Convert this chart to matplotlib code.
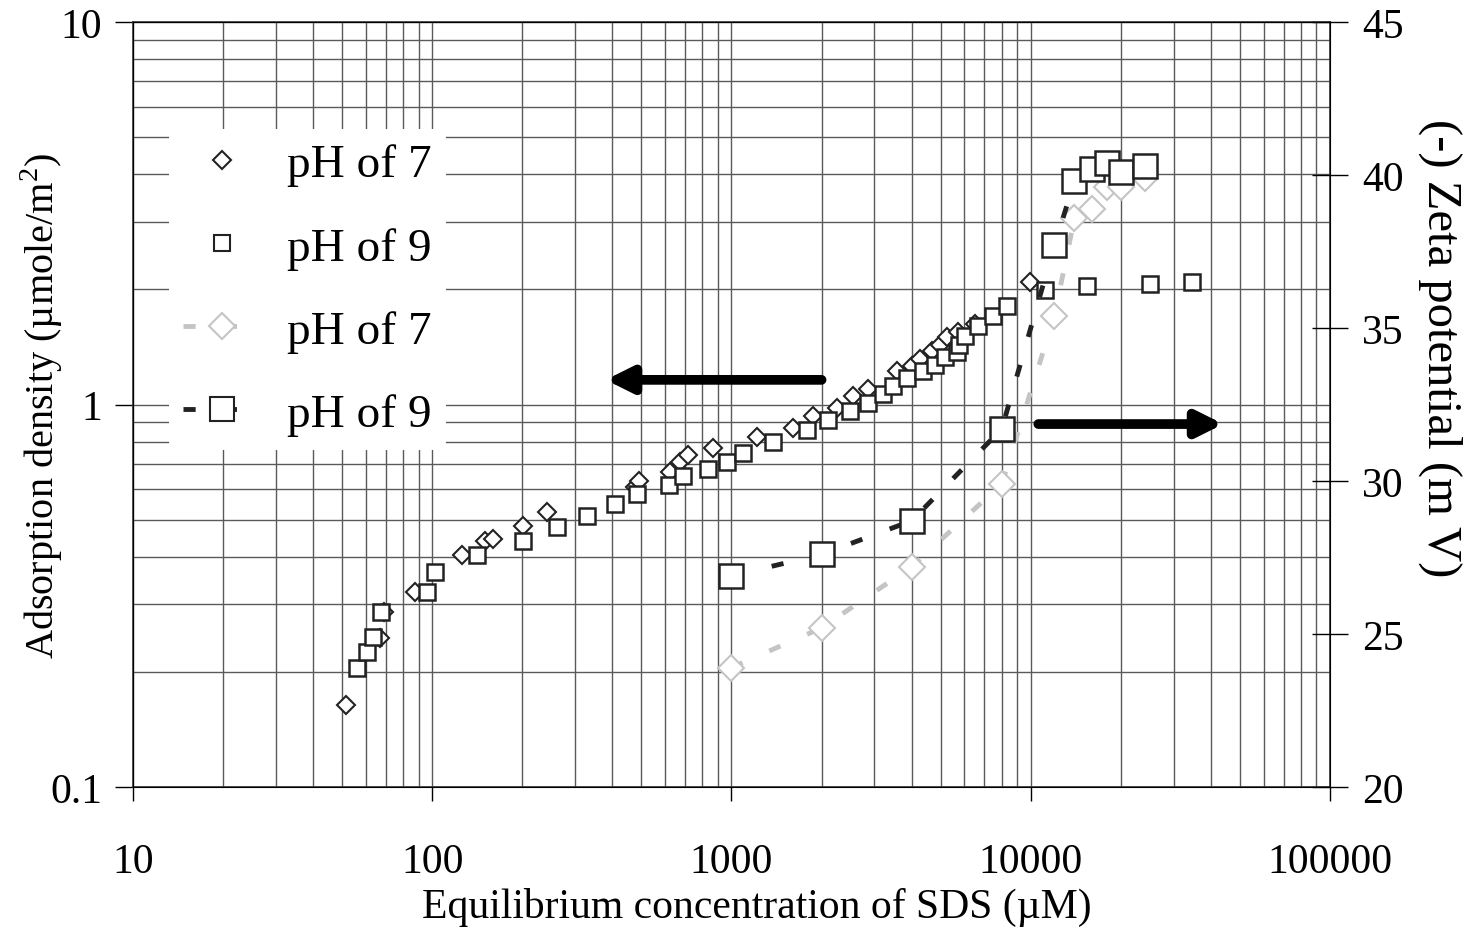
import numpy as np
import matplotlib
matplotlib.use('Agg')
import matplotlib.pyplot as plt
from matplotlib.lines import Line2D
from matplotlib.ticker import FixedLocator, FixedFormatter, LogLocator, NullFormatter

plt.rcParams['font.family'] = ['Liberation Serif', 'DejaVu Serif']
plt.rcParams['mathtext.fontset'] = 'custom'
plt.rcParams['mathtext.rm'] = 'Liberation Serif'

# adsorption density, pH 7 (small diamonds)
ads7_x = [51.5, 67, 69, 87.5, 126, 150, 160, 201, 241, 475, 490, 622, 673, 716, 867,
          1216, 1607, 1872, 2253, 2548, 2859, 3570, 4009, 4266, 4677, 4975, 5250,
          5700, 6500, 9942]
ads7_y = [0.164, 0.245, 0.287, 0.324, 0.404, 0.44, 0.446, 0.481, 0.524, 0.61, 0.63,
          0.666, 0.707, 0.736, 0.77, 0.822, 0.868, 0.933, 0.979, 1.05, 1.10, 1.22,
          1.26, 1.315, 1.38, 1.43, 1.50, 1.55, 1.62, 2.09]

# adsorption density, pH 9 (small squares)
ads9_x = [56.1, 60.5, 63.4, 67.4, 95.9, 102, 141, 201, 261, 329, 408, 483, 618, 689,
          834, 966, 1092, 1376, 1786, 2100, 2488, 2859, 3206, 3467, 3863, 4370, 4790,
          5170, 5670, 5750, 6030, 6660, 7480, 8330, 11170, 15420, 25000, 34600]
ads9_y = [0.205, 0.225, 0.247, 0.287, 0.324, 0.365, 0.404, 0.44, 0.479, 0.511, 0.55,
          0.583, 0.616, 0.65, 0.678, 0.707, 0.747, 0.798, 0.858, 0.911, 0.962, 1.01,
          1.065, 1.12, 1.17, 1.22, 1.27, 1.33, 1.37, 1.43, 1.51, 1.60, 1.70, 1.81,
          1.99, 2.04, 2.07, 2.09]

# zeta potential (big markers, dashed lines)
zeta_x = [1000, 2000, 4000, 8000, 12000, 14000, 16000, 18000, 20000, 24000]
zeta7 = [23.9, 25.2, 27.2, 29.9, 35.4, 38.6, 38.9, 39.6, 39.6, 39.9]
zeta9 = [26.9, 27.6, 28.7, 31.7, 37.7, 39.8, 40.2, 40.4, 40.1, 40.3]

x_ticks = [10, 100, 1000, 10000, 100000]
x_labels = ['10', '100', '1000', '10000', '100000']
y_ticks = [0.1, 1, 10]
y_labels = ['0.1', '1', '10']
z_ticks = [20, 25, 30, 35, 40, 45]

LIGHT = '#c4c4c4'
DARK = '#222222'
GRID = '#5a5a5a'
DASH = (0, (2.5, 6))

fig = plt.figure(figsize=(14.69, 9.29), dpi=100)
ax = fig.add_axes([0.0905, 0.1518, 0.8149, 0.8234])
ax.set_xscale('log')
ax.set_yscale('log')
ax.set_xlim(10, 100000)
ax.set_ylim(0.1, 10)

ax.xaxis.set_major_locator(FixedLocator(x_ticks))
ax.xaxis.set_major_formatter(FixedFormatter(x_labels))
ax.xaxis.set_minor_locator(LogLocator(base=10, subs=np.arange(2, 10)))
ax.xaxis.set_minor_formatter(NullFormatter())
ax.yaxis.set_major_locator(FixedLocator(y_ticks))
ax.yaxis.set_major_formatter(FixedFormatter(y_labels))
ax.yaxis.set_minor_locator(LogLocator(base=10, subs=np.arange(2, 10)))
ax.yaxis.set_minor_formatter(NullFormatter())

ax.grid(True, which='both', color=GRID, lw=1.0)
ax.tick_params(axis='x', which='major', direction='out', length=10, width=1, pad=30, labelsize=30)
ax.tick_params(axis='y', which='major', direction='out', length=13, width=1, pad=9, labelsize=30)
ax.tick_params(which='minor', length=0)
for s in ax.spines.values():
    s.set_color('#333333')
    s.set_linewidth(1.2)

ax.plot(ads7_x, ads7_y, ls='none', marker='D', ms=9, mfc='white', mec=DARK, mew=1.5, zorder=3)
ax.plot(ads9_x, ads9_y, ls='none', marker='s', ms=11.5, mfc='white', mec=DARK, mew=1.8, zorder=3)

ax.set_xlabel('Equilibrium concentration of SDS (µM)', fontsize=30, va='center')
ax.xaxis.set_label_coords(0.521, -0.156)
ax.set_ylabel('Adsorption density (µmole/m$^{2}$)', fontsize=29, va='center')
ax.yaxis.set_label_coords(-0.076, 0.5)

arrow = dict(arrowstyle='-|>,head_length=1.5,head_width=0.75', lw=7, color='black',
             shrinkA=0, shrinkB=0)
ax.annotate('', xy=(380, 1.16), xytext=(2000, 1.16), arrowprops=arrow, zorder=4)
ax.annotate('', xy=(44000, 0.889), xytext=(10600, 0.889), arrowprops=arrow, zorder=4)

ax2 = ax.twinx()
ax2.set_ylim(20, 45)
ax2.yaxis.set_major_locator(FixedLocator(z_ticks))
ax2.tick_params(axis='y', direction='inout', length=26, width=1, pad=10, labelsize=30)
ax2.set_ylabel('(-) Zeta potential (m V)', fontsize=35, rotation=270, va='center')
ax2.yaxis.set_label_coords(1.092, 0.575)

ax2.plot(zeta_x, zeta7, ls=DASH, lw=3.5, color=LIGHT, marker='D', ms=13,
         mfc='white', mec=LIGHT, mew=1.5, zorder=3)
ax2.plot(zeta_x, zeta9, ls=DASH, lw=3.5, color=DARK, marker='s', ms=17,
         mfc='white', mec=DARK, mew=1.8, zorder=3)

handles = [
    Line2D([], [], ls='none', marker='D', ms=9, mfc='white', mec=DARK, mew=1.5),
    Line2D([], [], ls='none', marker='s', ms=11.5, mfc='white', mec=DARK, mew=1.5),
    Line2D([], [], ls=DASH, lw=3.5, color=LIGHT, marker='D', ms=13,
           mfc='white', mec=LIGHT, mew=1.5),
    Line2D([], [], ls=DASH, lw=3.5, color=DARK, marker='s', ms=17,
           mfc='white', mec=DARK, mew=1.5),
]
labels = ['pH of 7', 'pH of 9', 'pH of 7', 'pH of 9']
leg = ax2.legend(handles, labels, loc='upper left', bbox_to_anchor=(0.03, 0.86),
                 fontsize=34, frameon=True, framealpha=1, facecolor='white', edgecolor='none',
                 handlelength=1.65, handletextpad=0.55, labelspacing=0.85, borderpad=0.3,
                 borderaxespad=0)
leg.set_zorder(5)

plt.savefig('out.png', dpi=100)
plt.close(fig)
